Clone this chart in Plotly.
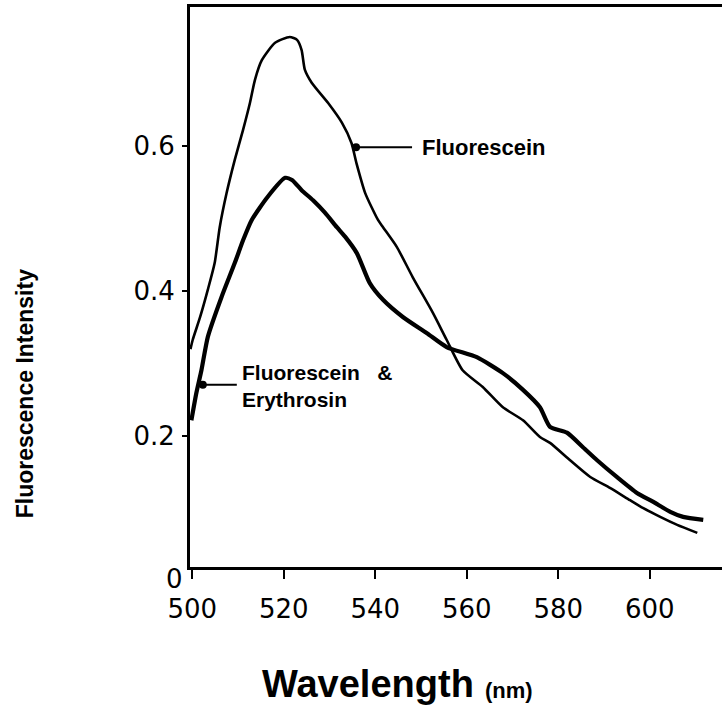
import plotly.graph_objects as go

# Emission spectra (wavelength in nm, relative fluorescence intensity)
fluorescein_nm = [499.6, 500.1, 501.7, 503.4, 504.9, 506.0, 507.5, 509.3, 511.1, 512.6,
                  513.7, 515.2, 518.1, 521.3, 522.9, 523.9, 524.6, 526.1, 529.7, 532.7,
                  534.8, 535.9, 537.8, 540.6, 541.7, 544.7, 548.2, 552.6, 555.6, 559.1,
                  563.5, 567.9, 572.3, 576.0, 578.2, 582.6, 587.0, 591.3, 595.7, 598.6,
                  602.3, 606.0, 610.4]
fluorescein_int = [0.320, 0.333, 0.364, 0.402, 0.439, 0.488, 0.535, 0.581, 0.622, 0.659,
                   0.691, 0.718, 0.742, 0.750, 0.746, 0.732, 0.705, 0.687, 0.659, 0.632,
                   0.604, 0.576, 0.535, 0.498, 0.488, 0.461, 0.419, 0.370, 0.333, 0.291,
                   0.268, 0.240, 0.222, 0.199, 0.191, 0.167, 0.144, 0.129, 0.112, 0.101,
                   0.089, 0.078, 0.067]

mix_nm = [499.8, 500.9, 502.0, 503.4, 506.4, 509.3, 511.1, 513.0, 516.5, 520.3,
          521.8, 523.9, 526.4, 529.0, 531.6, 533.4, 536.0, 538.8, 541.7, 546.1,
          551.3, 555.6, 562.2, 567.9, 572.3, 576.0, 578.2, 581.9, 585.4, 588.5,
          592.8, 597.2, 600.7, 604.5, 607.3, 611.7]
mix_int = [0.222, 0.260, 0.291, 0.337, 0.392, 0.439, 0.470, 0.498, 0.530, 0.556,
           0.553, 0.539, 0.525, 0.508, 0.488, 0.475, 0.452, 0.411, 0.388, 0.364,
           0.342, 0.323, 0.309, 0.287, 0.264, 0.240, 0.213, 0.205, 0.185, 0.167,
           0.144, 0.122, 0.110, 0.096, 0.089, 0.085]

x_ticks = [500, 520, 540, 560, 580, 600]
x_ticktext = ["500", "520", "540", "560", "580", "600"]
y_ticks = [0.2, 0.4, 0.6]
y_ticktext = ["0.2", "0.4", "0.6"]

x_range = [499.5, 615.8]
y_range = [0.020, 0.7913]

tick_font = dict(family="DejaVu Sans", size=26, color="black")
label_font = dict(family="Liberation Sans", size=22, color="black")

fig = go.Figure()
fig.add_trace(go.Scatter(x=fluorescein_nm, y=fluorescein_int, mode="lines",
                         line=dict(color="black", width=2.6, shape="spline", smoothing=0.6),
                         name="Fluorescein", showlegend=False, hoverinfo="skip"))
fig.add_trace(go.Scatter(x=mix_nm, y=mix_int, mode="lines",
                         line=dict(color="black", width=4.2, shape="spline", smoothing=0.6),
                         name="Fluorescein & Erythrosin", showlegend=False, hoverinfo="skip"))

fig.update_layout(
    width=722, height=726,
    margin=dict(l=190, r=0, t=7, b=159),
    paper_bgcolor="white", plot_bgcolor="white",
    xaxis=dict(range=x_range, tickvals=x_ticks, ticktext=x_ticktext,
               ticks="outside", ticklen=9, tickwidth=2, tickcolor="black",
               showline=True, linewidth=3, linecolor="black", mirror=True,
               showgrid=False, zeroline=False, tickfont=tick_font,
               ticklabelstandoff=8),
    xaxis2=dict(range=x_range, overlaying="x", anchor="y", side="bottom",
                tickvals=x_ticks, ticks="inside", ticklen=5, tickwidth=2,
                tickcolor="black", showticklabels=False, showline=False,
                showgrid=False, zeroline=False),
    yaxis=dict(range=y_range, tickvals=y_ticks, ticktext=y_ticktext,
               ticks="outside", ticklen=5, tickwidth=2, tickcolor="black",
               showline=True, linewidth=3, linecolor="black", mirror=False,
               showgrid=False, zeroline=False, tickfont=tick_font,
               ticklabelstandoff=2),
    yaxis2=dict(range=y_range, overlaying="y", anchor="x", side="left",
                tickvals=y_ticks, ticks="inside", ticklen=8, tickwidth=2,
                tickcolor="black", showticklabels=False, showline=False,
                showgrid=False, zeroline=False),
)

# origin label at the corner
fig.add_annotation(text="0", xref="paper", yref="paper", x=-0.030, y=-0.022,
                   showarrow=False, font=tick_font, xanchor="center", yanchor="middle")

# Fluorescein label with its leader line
fig.add_annotation(text="<b>Fluorescein</b>", x=535.8, y=0.598, xref="x", yref="y",
                   ax=127, ay=0, showarrow=True, arrowhead=6, arrowsize=1.0,
                   arrowwidth=2, arrowcolor="black", borderpad=9,
                   font=label_font)

# Fluorescein & Erythrosin label: leader line plus a two-line text block
fig.add_annotation(text="&nbsp;", x=502.3, y=0.271, xref="x", yref="y",
                   ax=36, ay=0, showarrow=True, arrowhead=6, arrowsize=1.0,
                   arrowwidth=2, arrowcolor="black", font=dict(size=2))
fig.add_annotation(text="<b>Fluorescein&nbsp;&nbsp;&nbsp;&amp;<br>Erythrosin</b>",
                   x=510.5, y=0.269, xref="x", yref="y", xanchor="left",
                   yanchor="middle", align="left", showarrow=False,
                   font=dict(family="Liberation Sans", size=21, color="black"))

# axis titles
fig.add_annotation(text="<b>Fluorescence Intensity</b>", xref="paper", yref="paper",
                   x=(25 - 190) / 532, y=(566.7 - 394) / 560, textangle=-90,
                   xanchor="center", yanchor="middle", showarrow=False,
                   font=dict(family="Liberation Sans", size=23, color="black"))
fig.add_annotation(text="<b>Wavelength</b>", xref="paper", yref="paper",
                   x=(260 - 190) / 532, y=(566.7 - 684) / 560, xanchor="left",
                   yanchor="middle", showarrow=False,
                   font=dict(family="Liberation Sans", size=38, color="black"))
fig.add_annotation(text="<b>(nm)</b>", xref="paper", yref="paper",
                   x=(483 - 190) / 532, y=(566.7 - 690) / 560, xanchor="left",
                   yanchor="middle", showarrow=False,
                   font=dict(family="Liberation Sans", size=22, color="black"))

fig.write_html("out.html")
